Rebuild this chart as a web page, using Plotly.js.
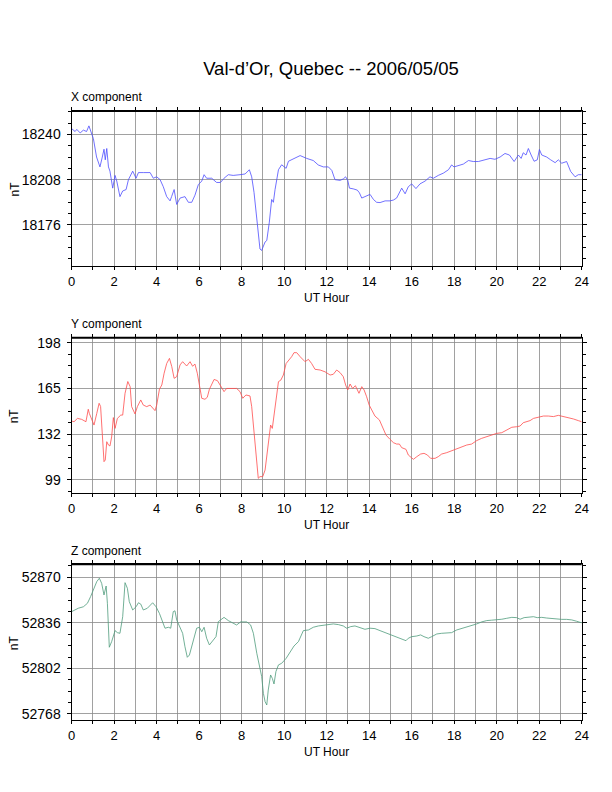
<!DOCTYPE html>
<html>
<head>
<meta charset="utf-8">
<script src="https://cdn.plot.ly/plotly-3.0.1.min.js"></script>
<style>
  html, body { margin: 0; padding: 0; background: #fff; }
  #grafica { width: 612px; height: 792px; }
</style>
</head>
<body>
<div id="grafica"></div>
<script>
// Magnetometer readings, Val-d'Or 2006/05/05

// X component (nT)
const xHours = [0, 0.16, 0.24, 0.4, 0.55, 0.7, 0.81, 0.94, 1.02, 1.17,
  1.33, 1.44, 1.52, 1.58, 1.65, 1.73, 1.8, 1.93, 2.04, 2.12,
  2.27, 2.4, 2.56, 2.67, 2.87, 3.03, 3.14, 3.37, 3.69, 3.84,
  4.0, 4.16, 4.31, 4.47, 4.63, 4.7, 4.82, 4.94, 5.1, 5.33,
  5.49, 5.65, 5.8, 5.96, 6.12, 6.23, 6.35, 6.59, 6.82, 7.0,
  7.17, 7.37, 7.6, 7.92, 8.16, 8.36, 8.47, 8.58, 8.71, 8.86,
  8.94, 9.1, 9.18, 9.3, 9.41, 9.49, 9.57, 9.73, 9.88, 10.09,
  10.2, 10.43, 10.75, 11.06, 11.37, 11.6, 11.84, 12.08, 12.24, 12.39,
  12.63, 12.78, 12.89, 12.99, 13.07, 13.25, 13.44, 13.54, 13.65, 13.8,
  14.04, 14.2, 14.35, 14.51, 14.75, 14.98, 15.14, 15.29, 15.42, 15.53,
  15.69, 15.84, 16.0, 16.2, 16.39, 16.63, 16.86, 17.02, 17.25, 17.49,
  17.73, 17.88, 17.99, 18.2, 18.43, 18.67, 18.9, 19.14, 19.45, 19.69,
  19.92, 20.16, 20.39, 20.6, 20.82, 21.02, 21.15, 21.25, 21.38, 21.49,
  21.62, 21.76, 21.91, 22.01, 22.12, 22.35, 22.54, 22.75, 22.9, 23.06,
  23.29, 23.48, 23.69, 23.84, 24.0];
const xValues = [18244, 18242, 18243.5, 18241, 18243, 18242, 18246, 18240, 18237, 18224,
  18217, 18224, 18229.5, 18222, 18230, 18217, 18214, 18202, 18211, 18207,
  18196, 18200, 18201, 18208, 18214, 18209, 18213, 18213, 18213, 18209,
  18210, 18208, 18203, 18196, 18193, 18196, 18201, 18190.5, 18195, 18196,
  18192, 18192, 18197, 18204.5, 18207, 18211.5, 18209, 18209, 18206, 18206,
  18209, 18211.5, 18211, 18211.5, 18212, 18215, 18210, 18199, 18178, 18159,
  18158, 18164, 18165, 18178, 18194, 18192, 18201, 18215, 18218.5, 18216,
  18221, 18222.5, 18225, 18223, 18221.5, 18218.4, 18217, 18217, 18214.5, 18208,
  18207.5, 18208.5, 18210, 18207.5, 18202, 18201.5, 18200.6, 18198.7, 18195, 18196,
  18197.6, 18194, 18192, 18191.8, 18193, 18193, 18193.6, 18195, 18198.7, 18202,
  18198, 18203, 18205, 18201.7, 18205, 18207, 18210, 18209, 18211, 18212.6,
  18215, 18218.4, 18217, 18217.7, 18219, 18221.5, 18220.8, 18220.8, 18222, 18223,
  18222.4, 18224, 18226.5, 18225.4, 18220.8, 18225.4, 18223, 18227, 18225.4, 18230,
  18225.4, 18221, 18222, 18229.3, 18225.4, 18224, 18222, 18220, 18222, 18219.6,
  18220.8, 18213.8, 18210, 18211.5, 18211.5];

// Y component (nT)
const yHours = [0, 0.11, 0.27, 0.47, 0.67, 0.78, 0.83, 0.94, 1.05, 1.18,
  1.29, 1.36, 1.44, 1.52, 1.58, 1.65, 1.73, 1.8, 1.88, 1.96,
  2.04, 2.15, 2.31, 2.4, 2.51, 2.64, 2.75, 2.82, 2.98, 3.09,
  3.25, 3.37, 3.53, 3.69, 3.92, 4.0, 4.13, 4.24, 4.35, 4.47,
  4.6, 4.71, 4.82, 4.94, 5.1, 5.22, 5.41, 5.57, 5.69, 5.8,
  5.91, 6.04, 6.12, 6.27, 6.38, 6.48, 6.59, 6.7, 6.86, 7.01,
  7.17, 7.29, 7.53, 7.76, 7.92, 8.05, 8.2, 8.39, 8.47, 8.58,
  8.67, 8.78, 8.86, 8.99, 9.1, 9.18, 9.25, 9.36, 9.44, 9.52,
  9.61, 9.73, 9.84, 9.96, 10.09, 10.24, 10.35, 10.46, 10.59, 10.75,
  10.98, 11.14, 11.29, 11.45, 11.69, 11.92, 12.16, 12.31, 12.47, 12.63,
  12.78, 12.89, 12.99, 13.1, 13.22, 13.35, 13.44, 13.52, 13.65, 13.76,
  13.88, 14.0, 14.12, 14.27, 14.48, 14.64, 14.79, 14.98, 15.14, 15.29,
  15.42, 15.53, 15.73, 15.84, 15.95, 16.08, 16.24, 16.42, 16.58, 16.74,
  16.89, 17.1, 17.25, 17.41, 17.65, 17.88, 18.12, 18.35, 18.59, 18.82,
  19.06, 19.29, 19.53, 19.76, 20.0, 20.24, 20.47, 20.71, 20.94, 21.1,
  21.25, 21.41, 21.57, 21.73, 21.96, 22.2, 22.43, 22.67, 22.9, 23.14,
  23.37, 23.61, 23.84, 24.0];
const yValues = [141.5, 141, 143.4, 142.7, 141, 150, 147, 143.4, 138.6, 147,
  154.3, 152, 130, 112.2, 113.4, 126.6, 124.2, 123.5, 130, 144,
  136.2, 143.4, 145.8, 145.8, 161.5, 170, 166.3, 151.9, 146.6, 151.9,
  156.7, 153, 151.9, 153, 149, 153, 164.5, 167.5, 176, 183,
  186.7, 180.7, 172.3, 173.5, 182, 184.3, 181.2, 184.3, 181, 182.6,
  176, 166.3, 157.9, 157.2, 158.6, 164.4, 167.5, 171.5, 170.6, 166.3,
  162.7, 165, 165, 165, 162.7, 157.9, 160.3, 159.6, 151.9, 132.6,
  115.8, 100.2, 101.4, 101.4, 106.2, 115.8, 125.4, 138.6, 136.2, 144.7,
  156.7, 169.9, 171, 174.7, 183, 185.5, 187.9, 190.8, 190.8, 187.9,
  184.3, 186, 183, 178.8, 178.3, 177, 174.7, 175.2, 178.3, 176.4,
  173.5, 167.5, 163.9, 168.2, 165, 167, 163.9, 161.5, 166.3, 163.9,
  159, 153, 149.5, 145.1, 142.3, 136.2, 131.4, 128.3, 125.9, 124.9,
  124.9, 122.3, 121.1, 117, 115.8, 113.9, 115.8, 117.7, 118.2, 117,
  114.6, 114.6, 115.8, 117.7, 118.7, 120.1, 121.1, 123, 124.2, 124.9,
  127.4, 129, 130.2, 131, 132.6, 133.1, 135, 137, 137.4, 137.9,
  140.3, 141, 141.8, 143.4, 144.2, 145.1, 145.1, 144.7, 145.6, 144.7,
  144.2, 143, 141.8, 141];

// Z component (nT)
const zHours = [0, 0.16, 0.31, 0.55, 0.74, 0.89, 1.02, 1.18, 1.3, 1.41,
  1.52, 1.62, 1.68, 1.77, 1.88, 1.96, 2.04, 2.15, 2.27, 2.4,
  2.51, 2.62, 2.71, 2.87, 3.03, 3.14, 3.25, 3.37, 3.56, 3.81,
  3.97, 4.13, 4.28, 4.39, 4.55, 4.66, 4.78, 4.86, 4.94, 5.1,
  5.22, 5.33, 5.44, 5.54, 5.65, 5.76, 5.88, 6.01, 6.12, 6.23,
  6.35, 6.48, 6.64, 6.79, 6.9, 7.06, 7.17, 7.37, 7.58, 7.76,
  7.95, 8.24, 8.42, 8.55, 8.71, 8.83, 8.94, 9.02, 9.1, 9.18,
  9.25, 9.36, 9.44, 9.52, 9.61, 9.73, 9.88, 10.09, 10.27, 10.46,
  10.67, 10.9, 11.14, 11.37, 11.61, 11.84, 12.08, 12.31, 12.55, 12.78,
  12.94, 13.13, 13.33, 13.57, 13.8, 14.04, 14.27, 14.51, 14.75, 14.98,
  15.22, 15.42, 15.61, 15.73, 15.84, 16.0, 16.24, 16.42, 16.58, 16.78,
  16.94, 17.18, 17.41, 17.65, 17.88, 18.12, 18.35, 18.59, 18.82, 19.06,
  19.29, 19.53, 19.76, 20.0, 20.24, 20.47, 20.71, 20.94, 21.1, 21.29,
  21.49, 21.73, 21.91, 22.12, 22.35, 22.59, 22.82, 23.06, 23.29, 23.53,
  23.76, 24.0];
const zValues = [52844.4, 52845.6, 52846.9, 52848, 52850.6, 52855.6, 52861, 52866.8, 52869.3, 52865.5,
  52856.8, 52863.5, 52850.6, 52817.8, 52822, 52825.7, 52830.2, 52828.7, 52828.2, 52840.6,
  52866, 52861.8, 52851.8, 52845.6, 52848, 52851, 52850, 52845.6, 52846.9, 52851,
  52848, 52843, 52835.7, 52832, 52832.7, 52832, 52844.4, 52845, 52838.2, 52833.2,
  52828.2, 52818.2, 52810.3, 52812, 52818.2, 52824.5, 52832, 52832.7, 52829.4, 52832.7,
  52824.5, 52819.5, 52822.7, 52825.7, 52836.9, 52838.6, 52840.1, 52837.7, 52835.7, 52834.4,
  52836.7, 52836.7, 52834.4, 52828.2, 52813.3, 52804.6, 52795.9, 52783.4, 52777.2, 52774.7,
  52785.9, 52797.1, 52794.6, 52790.4, 52799.6, 52804.6, 52805.8, 52809.5, 52814.5, 52818.7,
  52822, 52830.2, 52830.7, 52832.7, 52833.7, 52834.2, 52835.2, 52835.2, 52834.7, 52833.7,
  52832, 52833.2, 52833.7, 52832.2, 52831.2, 52832, 52831.7, 52830.2, 52828.7, 52827.5,
  52826.2, 52824.5, 52823.7, 52822.7, 52824.5, 52825.7, 52826.2, 52827, 52825.7, 52824.5,
  52825.7, 52827.7, 52828.2, 52828.2, 52828.7, 52830.7, 52831.7, 52832.7, 52833.7, 52835.2,
  52836.7, 52837.7, 52838, 52838.2, 52838.7, 52839.4, 52840.1, 52839.9, 52838.7, 52839.9,
  52840.4, 52840.6, 52839.9, 52840.1, 52839.6, 52839.1, 52838.6, 52838.6, 52838.6, 52838.2,
  52837.2, 52836];

const componentNames = ['X component', 'Y component', 'Z component'];


// Geometria en pixeles (pagina 612 x 792)
const W = 612, H = 792;
const plotLeft = 71.7, plotRight = 581.7;
const panelTop    = [111, 337.7, 564.3];
const panelBottom = [266, 493, 720];

const fuente = 'Liberation Sans, Arial, Helvetica, sans-serif';
const gris = '#8a8a8a';

function py(px) { return 1 - px / H; }

let xDomain = [plotLeft / W, plotRight / W];

function ejeX(i) {
  return {
    domain: xDomain,
    anchor: 'y' + (i === 1 ? '' : i),
    range: [0, 24],
    tickmode: 'linear', tick0: 0, dtick: 2,
    ticks: 'outside', ticklen: 3, tickcolor: '#000', tickwidth: 1,
    showgrid: true, gridcolor: gris, gridwidth: 0.8,
    minor: { dtick: 1, tick0: 0, ticks: 'outside', ticklen: 3, tickcolor: '#000',
             showgrid: true, gridcolor: gris, gridwidth: 0.8 },
    showline: true, linecolor: '#000', linewidth: 1.2, mirror: 'ticks',
    zeroline: false,
    tickfont: { family: fuente, size: 13, color: '#000' },
    ticklabelstandoff: 0,
    automargin: false, fixedrange: true
  };
}

function ejeY(i, rango, t0, paso) {
  return {
    domain: [py(panelBottom[i - 1]), py(panelTop[i - 1])],
    anchor: 'x' + (i === 1 ? '' : i),
    range: rango,
    tickmode: 'linear', tick0: t0, dtick: paso,
    ticks: 'outside', ticklen: 4, tickcolor: '#000', tickwidth: 1,
    showgrid: true, gridcolor: gris, gridwidth: 0.8,
    minor: { dtick: paso / 4, tick0: t0, ticks: 'outside', ticklen: 3, tickcolor: '#000', showgrid: false },
    showline: true, linecolor: '#000', linewidth: 1.2, mirror: 'ticks',
    zeroline: false,
    exponentformat: 'none', separatethousands: false, tickformat: 'd',
    tickfont: { family: fuente, size: 14, color: '#000' },
    ticklabelstandoff: 3,
    automargin: false, fixedrange: true
  };
}

let data = [
  { x: xHours, y: xValues, xaxis: 'x',  yaxis: 'y',  mode: 'lines', line: { color: '#4d4dff', width: 0.8 } },
  { x: yHours, y: yValues, xaxis: 'x2', yaxis: 'y2', mode: 'lines', line: { color: '#ff4d4d', width: 0.8 } },
  { x: zHours, y: zValues, xaxis: 'x3', yaxis: 'y3', mode: 'lines', line: { color: '#4f9c7c', width: 0.8 } }
];

let anotaciones = [];
let formas = [];
for (let i = 0; i < 3; i++) {
  // titulo de cada panel
  anotaciones.push({
    text: componentNames[i], xref: 'paper', yref: 'paper',
    x: (plotLeft - 3) / W, y: py(panelTop[i] - 13.5), xanchor: 'left', yanchor: 'middle',
    showarrow: false, font: { family: fuente, size: 12, color: '#000' }
  });
  // etiqueta eje y
  anotaciones.push({
    text: 'nT', xref: 'paper', yref: 'paper', textangle: -90,
    x: 14 / W, y: py((panelTop[i] + panelBottom[i]) / 2), xanchor: 'center', yanchor: 'middle',
    showarrow: false, font: { family: fuente, size: 12, color: '#000' }
  });
  // etiqueta eje x
  anotaciones.push({
    text: 'UT Hour', xref: 'paper', yref: 'paper',
    x: (plotLeft + plotRight) / 2 / W, y: py(panelBottom[i] + 32), xanchor: 'center', yanchor: 'middle',
    showarrow: false, borderpad: 0, font: { family: fuente, size: 12, color: '#000' }
  });
  // borde superior mas grueso
  let sx = i === 0 ? 'x' : 'x' + (i + 1);
  let sy = i === 0 ? 'y' : 'y' + (i + 1);
  formas.push({
    type: 'line', xref: sx + ' domain', yref: sy + ' domain',
    x0: 0, x1: 1, y0: 1, y1: 1, line: { color: '#000', width: 2 }
  });
}

let layout = {
  width: W, height: H,
  margin: { l: 0, r: 0, t: 0, b: 0 },
  paper_bgcolor: '#fff', plot_bgcolor: '#fff',
  showlegend: false,
  title: {
    text: 'Val-d’Or, Quebec -- 2006/05/05',
    font: { family: fuente, size: 18.5, color: '#000' },
    x: 331 / W, xanchor: 'center', xref: 'paper',
    y: py(68.3), yanchor: 'middle', yref: 'container'
  },
  xaxis: ejeX(1), xaxis2: ejeX(2), xaxis3: ejeX(3),
  yaxis:  ejeY(1, [18147, 18256.5], 18176, 32),
  yaxis2: ejeY(2, [89.6, 201.6], 99, 33),
  yaxis3: ejeY(3, [52763.5, 52879.7], 52768, 34),
  annotations: anotaciones,
  shapes: formas
};

let config = { staticPlot: true, displayModeBar: false };

Plotly.newPlot('grafica', data, layout, config);
</script>
</body>
</html>
